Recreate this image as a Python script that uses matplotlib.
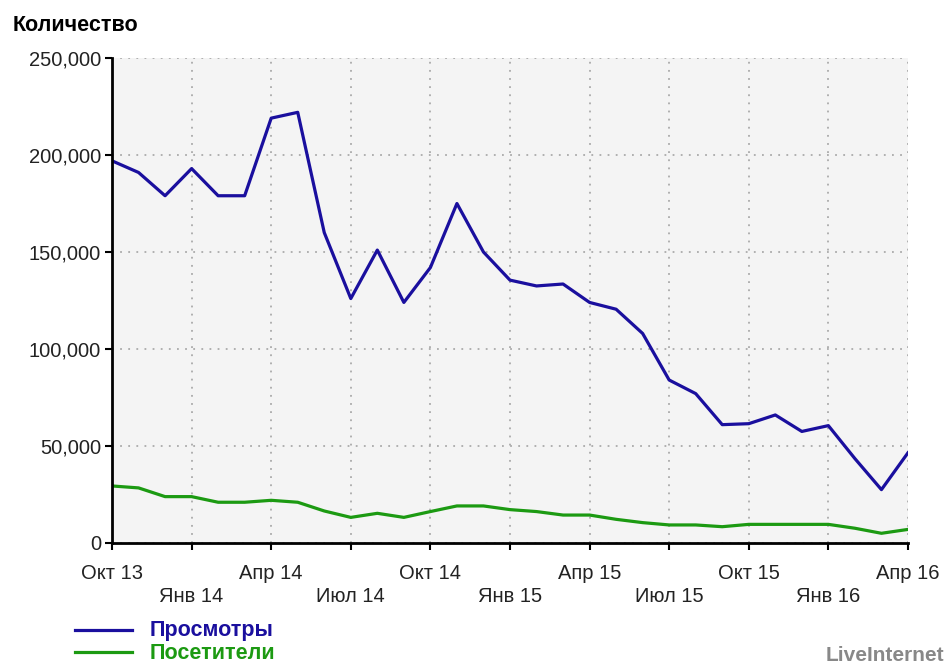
import matplotlib
import matplotlib.pyplot as plt
from matplotlib.lines import Line2D
from matplotlib.ticker import FuncFormatter

matplotlib.use('Agg')
plt.rcParams['font.family'] = ['Liberation Sans', 'DejaVu Sans']

# Месяцы: Окт 13 ... Апр 16
months = list(range(31))
tick_pos = list(range(0, 31, 3))
tick_labels = ['Окт 13', 'Янв 14', 'Апр 14', 'Июл 14', 'Окт 14', 'Янв 15',
               'Апр 15', 'Июл 15', 'Окт 15', 'Янв 16', 'Апр 16']

# Просмотры
views = [197000, 191000, 179000, 193000, 179000, 179000, 219000, 222000,
         160000, 126000, 151000, 124000, 142000, 175000, 150000, 135500,
         132500, 133500, 124000, 120500, 108000, 84000, 77000, 61000,
         61500, 66000, 57500, 60500, 43500, 27500, 46500]
# Посетители
visitors = [29400, 28400, 23900, 23900, 21000, 21000, 22000, 21000,
            16500, 13200, 15300, 13200, 16200, 19100, 19100, 17200,
            16200, 14400, 14400, 12200, 10500, 9300, 9300, 8400,
            9600, 9600, 9600, 9600, 7600, 5000, 7000]

blue = '#1a0f9e'
green = '#1c9a12'

fig = plt.figure(figsize=(9.46, 6.66), dpi=100)
ax = fig.add_axes([0.1184, 0.1847, 0.8414, 0.7282])
ax.set_facecolor('#f4f4f4')

ax.plot(months, views, color=blue, lw=2.3, solid_joinstyle='round')
ax.plot(months, visitors, color=green, lw=2.3, solid_joinstyle='round')

ax.set_xlim(0, 30)
ax.set_ylim(0, 250000)
ax.set_yticks(range(0, 250001, 50000))
ax.yaxis.set_major_formatter(FuncFormatter(lambda v, p: f'{int(v):,}'))
ax.set_xticks(tick_pos)
ax.set_xticklabels([t if i % 2 == 0 else '\n' + t for i, t in enumerate(tick_labels)],
                   linespacing=1.25)

ax.grid(True, color='#aaaaaa', linestyle=(0, (1, 3.5)), lw=1.3)
for s in ['top', 'right']:
    ax.spines[s].set_visible(False)
for s in ['left', 'bottom']:
    ax.spines[s].set_linewidth(2)
    ax.spines[s].set_color('black')
ax.tick_params(axis='both', direction='out', length=5, width=1.5,
               labelsize=14.5, colors='black', labelcolor='#222222', pad=3)
ax.tick_params(axis='x', pad=10)

fig.text(0.013, 0.962, 'Количество', fontsize=15.5, fontweight='bold', va='center')

# Легенда
fig.add_artist(Line2D([0.079, 0.14], [0.054, 0.054], color=blue, lw=2.3))
fig.add_artist(Line2D([0.079, 0.14], [0.021, 0.021], color=green, lw=2.3))
fig.text(0.158, 0.054, 'Просмотры', color=blue, fontsize=15.5, fontweight='bold', va='center')
fig.text(0.158, 0.019, 'Посетители', color=green, fontsize=15.5, fontweight='bold', va='center')

fig.text(0.998, 0.016, 'LiveInternet', color='#888888', fontsize=15,
         fontweight='bold', ha='right', va='center')

fig.savefig('out.png', dpi=100)
